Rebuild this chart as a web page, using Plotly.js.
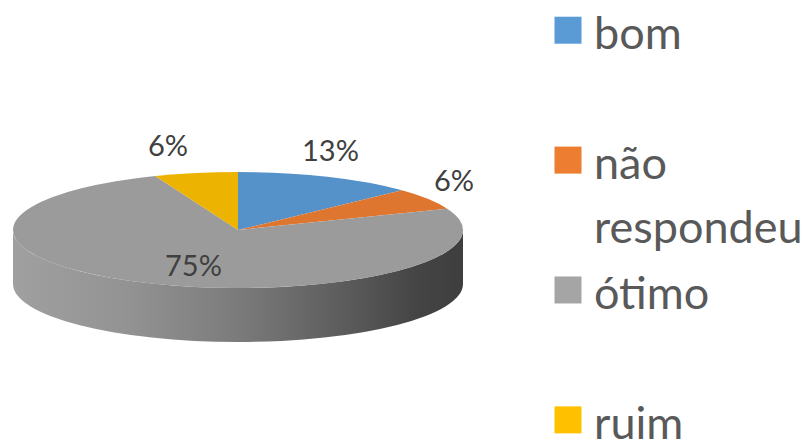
<!DOCTYPE html>
<html>
<head>
<meta charset="utf-8">
<script src="https://cdn.plot.ly/plotly-3.0.1.min.js"></script>
<style>
  html, body { margin: 0; padding: 0; background: #ffffff; overflow: hidden; }
  #chart { width: 808px; height: 480px; }
</style>
</head>
<body>
<div id="chart"></div>
<script>
// ---- data ----
const categories = ['bom', 'não respondeu', 'ótimo', 'ruim'];
const values = [13, 6, 75, 6];
const sliceColors = ['#5592ca', '#de7630', '#9b9b9b', '#ecb300'];
const legendColors = ['#5b9bd5', '#ed7d31', '#a5a5a5', '#ffc000'];
const labelPlacement = ['outside', 'outside', 'inside', 'outside'];

// ---- geometry / style ----
const W = 808, H = 480;          // plot a bit taller than the 445px window
const CX = 238, R = 225;         // pie centre x and radius (px)
const TOP_CY = 230, TOP_RY = 58; // flattened top ellipse centre y and vertical radius
const DEPTH = 54;                // visible thickness of the 3D side
const LEG_FS = 45;               // visible legend text size
const LEG_LINE_FS = 48.8;        // legend font size that drives line spacing

const total = values.reduce((a, b) => a + b, 0);
let cum = 0;
const annotations = values.map((v, i) => {
  const mid = 2 * Math.PI * (cum + v / 2) / total;
  cum += v;
  const sx = Math.sin(mid), cy = Math.cos(mid);
  let px, py;
  if (labelPlacement[i] === 'inside') {
    px = CX + 0.5 * R * sx;
    py = TOP_CY - 0.65 * TOP_RY * cy;
  } else {
    px = CX + R * sx + 52 * sx - 18;
    py = TOP_CY - TOP_RY * cy - (21 * cy + 8);
  }
  return {
    xref: 'paper', yref: 'paper', x: px / W, y: 1 - py / H,
    xanchor: 'center', yanchor: 'middle', showarrow: false,
    text: Math.round(100 * v / total) + '%',
    font: { family: 'Lato, sans-serif', size: 29, color: '#404040' }
  };
});

const legendLabels = categories.map((name, i) => {
  const parts = name.split(' ').map(w => `<span style="font-size:${LEG_FS}px">${w}</span>`);
  if (i < categories.length - 1 && parts.length < 2) parts.push('\u00a0');
  return parts.join('<br>');
});

const data = [{
  type: 'pie',
  values: values,
  labels: legendLabels,
  sort: false,
  direction: 'clockwise',
  rotation: 0,
  marker: { colors: sliceColors, line: { width: 0 } },
  textinfo: 'none',
  hoverinfo: 'skip',
  domain: { x: [(CX - R) / W, (CX + R) / W], y: [0, 1] }
}];

const layout = {
  width: W, height: H,
  margin: { l: 0, r: 0, t: 0, b: 0, autoexpand: false },
  paper_bgcolor: '#ffffff',
  showlegend: true,
  legend: {
    x: 554 / W, y: 1 + 8 / H, xanchor: 'left', yanchor: 'top', valign: 'top',
    font: { family: 'Lato, sans-serif', size: LEG_LINE_FS, color: '#595959' },
    itemwidth: 30, bgcolor: 'rgba(0,0,0,0)', borderwidth: 0, maxheight: 600
  },
  annotations: annotations
};

Plotly.newPlot('chart', data, layout, { staticPlot: true, displayModeBar: false }).then(gd => {
  const ns = 'http://www.w3.org/2000/svg';
  const cd0 = gd.calcdata && gd.calcdata[0] && gd.calcdata[0][0];
  const cx = (cd0 && cd0.cx) || CX;
  const cy0 = (cd0 && cd0.cy) || H / 2;
  const r = (cd0 && cd0.r) || R;
  const s = TOP_RY / r;
  const pieLayer = gd.querySelector('.pielayer');
  pieLayer.setAttribute('transform', `translate(0,${TOP_CY - cy0 * s}) scale(1,${s})`);

  // 3D side of the disc with a horizontal shading gradient
  const svg = gd.querySelector('svg.main-svg');
  let defs = svg.querySelector('defs');
  if (!defs) { defs = document.createElementNS(ns, 'defs'); svg.insertBefore(defs, svg.firstChild); }
  const grad = document.createElementNS(ns, 'linearGradient');
  grad.setAttribute('id', 'sideGrad');
  grad.setAttribute('gradientUnits', 'userSpaceOnUse');
  grad.setAttribute('x1', cx - r); grad.setAttribute('x2', cx + r);
  grad.setAttribute('y1', 0); grad.setAttribute('y2', 0);
  [[0, '#a0a0a0'], [0.25, '#939393'], [0.5, '#7b7b7b'], [0.75, '#5a5a5a'], [0.9, '#444444'], [1, '#3e3e3e']]
    .forEach(([o, c]) => {
      const st = document.createElementNS(ns, 'stop');
      st.setAttribute('offset', o); st.setAttribute('stop-color', c);
      grad.appendChild(st);
    });
  defs.appendChild(grad);
  const D = DEPTH / s;
  const side = document.createElementNS(ns, 'path');
  side.setAttribute('d',
    `M${cx - r},${cy0} L${cx - r},${cy0 + D} A${r},${r} 0 0 0 ${cx + r},${cy0 + D} ` +
    `L${cx + r},${cy0} A${r},${r} 0 0 1 ${cx - r},${cy0} Z`);
  side.setAttribute('fill', 'url(#sideGrad)');
  pieLayer.insertBefore(side, pieLayer.firstChild);

  // bigger legend squares
  gd.querySelectorAll('.legend .traces').forEach((t, i) => {
    const p = t.querySelector('path.legendpie');
    if (p) {
      p.setAttribute('transform', 'translate(14,0) scale(2.25)');
      p.style.fill = legendColors[i % legendColors.length];
    }
  });
});
</script>
</body>
</html>
